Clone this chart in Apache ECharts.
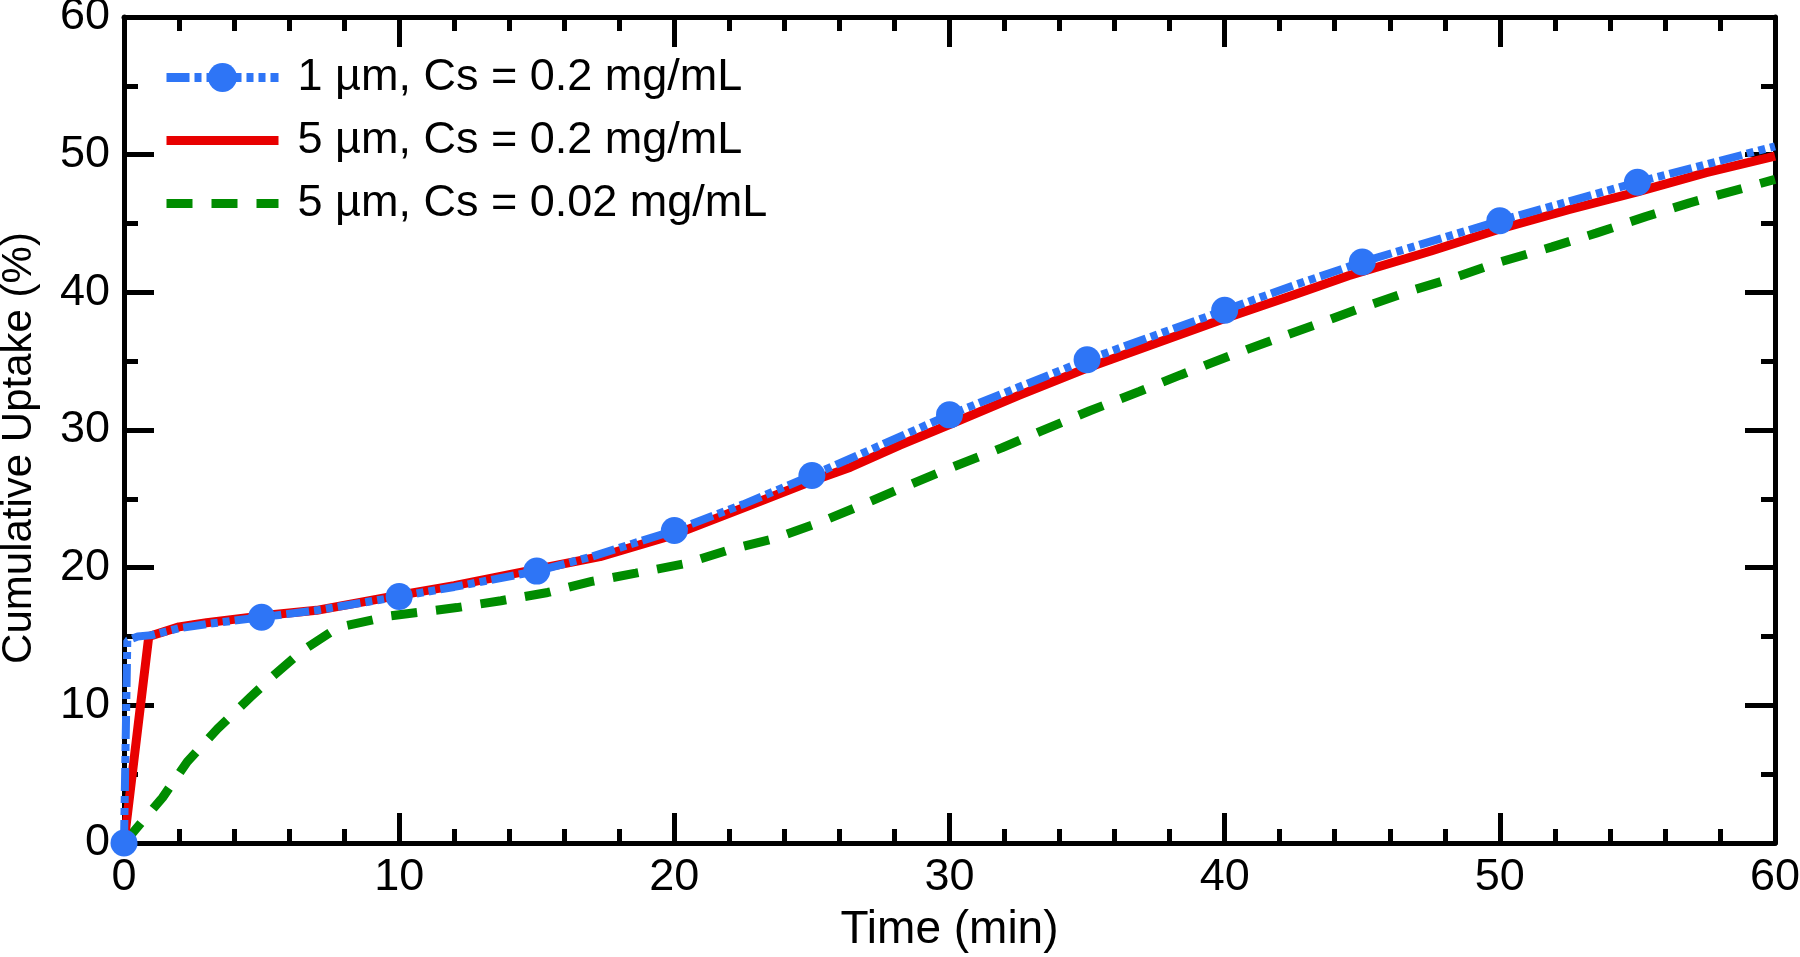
<!DOCTYPE html>
<html>
<head>
<meta charset="utf-8">
<script src="https://cdn.jsdelivr.net/npm/echarts@6/dist/echarts.min.js"></script>
<style>
html,body{margin:0;padding:0;background:#fff;}
#chart{width:1800px;height:957px;}
</style>
</head>
<body>
<div id="chart"></div>
<script>
// ---- data ----
var seriesNames = ['1 \u00b5m, Cs = 0.2 mg/mL', '5 \u00b5m, Cs = 0.2 mg/mL', '5 \u00b5m, Cs = 0.02 mg/mL'];
var xTitle = 'Time (min)';
var yTitle = 'Cumulative Uptake (%)';
// 1 um, 0.2 mg/mL  [time, uptake]
var blue = [[0,0],[0.12,14.7],[0.5,15.0],[1,15.1],[2,15.6],[3,15.9],[5,16.4],[7,16.9],[10,17.9],[12,18.6],[15,19.75],[17,20.8],[20,22.7],[22.5,24.6],[25,26.7],[27.5,28.9],[30,31.1],[32.5,33.1],[35,35.1],[37.5,36.9],[40,38.7],[42.5,40.5],[45,42.2],[47.5,43.7],[50,45.2],[52.5,46.6],[55,48.0],[57.5,49.3],[60,50.6]];
// times at which the blue series carries a marker
var blueMarkerTimes = [0,5,10,15,20,25,30,35,40,45,50,55];
// 5 um, 0.2 mg/mL
var red = [[0,0],[0.9,15.0],[2,15.7],[3,16.0],[5,16.5],[7,16.9],[10,18.0],[12,18.7],[15,19.9],[17.3,20.8],[20,22.4],[22.7,24.5],[25,26.3],[26.4,27.3],[28.2,28.9],[30,30.4],[32.5,32.5],[35,34.5],[37.5,36.3],[40,38.1],[42.5,39.8],[44.5,41.2],[47.5,43.0],[50,44.6],[52.5,46.0],[55,47.3],[57.5,48.7],[60,49.9]];
// 5 um, 0.02 mg/mL
var green = [[0,0],[0.3,0.7],[1.4,3.3],[2.3,5.9],[3.4,8.3],[4.6,10.6],[5.4,12.1],[6.5,14.0],[7.5,15.3],[8.1,15.8],[9.7,16.5],[12.1,17.1],[13.7,17.6],[15.4,18.2],[17.0,19.0],[18.6,19.6],[20.4,20.3],[22.0,21.3],[23.6,22.1],[25.3,23.3],[27.0,24.7],[28.4,25.9],[30.1,27.3],[31.9,28.7],[33.3,29.9],[35.1,31.4],[36.9,32.8],[38.4,34.0],[40.2,35.4],[41.9,36.65],[43.5,37.8],[45,38.9],[46.9,40.2],[48.4,41.1],[50,42.2],[51.9,43.3],[53.5,44.3],[55.3,45.5],[56.9,46.5],[60,48.2]];

// ---- chart ----
var FONT = 'Liberation Sans, Arial, Helvetica, sans-serif';
var FS = 45;
var chart = echarts.init(document.getElementById('chart'), null, {renderer:'canvas'});
function axisBase(showLabel, isX) {
  return {
    type: 'value', min: 0, max: 60, interval: 10,
    axisLine: {show: true, onZero: false, lineStyle: {color: '#000', width: 5}},
    axisTick: {show: true, inside: true, length: 30, lineStyle: {color: '#000', width: 5}},
    minorTick: {show: true, splitNumber: isX ? 5 : 2, length: 14, lineStyle: {color: '#000', width: 5}},
    splitLine: {show: false},
    axisLabel: {show: showLabel, color: '#000', fontFamily: FONT, fontSize: FS, margin: isX ? 12 : 14}
  };
}
var xMain = axisBase(true, true);
xMain.position = 'bottom';
xMain.name = xTitle; xMain.nameLocation = 'middle'; xMain.nameGap = 64;
xMain.nameTextStyle = {color: '#000', fontFamily: FONT, fontSize: 46};
var xTop = axisBase(false, true); xTop.position = 'top';
var yMain = axisBase(true, false);
yMain.position = 'left';
yMain.name = yTitle; yMain.nameLocation = 'middle'; yMain.nameGap = 84;
yMain.nameTextStyle = {color: '#000', fontFamily: FONT, fontSize: 42, padding: [0, 36, 0, 0]};
var yRight = axisBase(false, false); yRight.position = 'right';

var option = {
  backgroundColor: '#fff',
  animation: false,
  grid: {left: 124, right: 25, top: 17, bottom: 114, containLabel: false, outerBoundsMode: 'none'},
  legend: {
    left: 162, top: 55, orient: 'vertical', padding: 0,
    itemWidth: 112, itemHeight: 36, itemGap: 18,
    lineStyle: {width: 9},
    textStyle: {color: '#000', fontFamily: FONT, fontSize: FS, padding: [0,0,0,14]},
    data: [
      {name: seriesNames[0]},
      {name: seriesNames[1], itemStyle: {opacity: 0}},
      {name: seriesNames[2], itemStyle: {opacity: 0}}
    ]
  },
  xAxis: [xMain, xTop],
  yAxis: [yMain, yRight],
  series: [
    {
      name: seriesNames[2], type: 'line', xAxisIndex: 0, yAxisIndex: 0,
      data: green, symbol: 'none', z: 3,
      lineStyle: {color: '#008C00', width: 9, type: [26, 19]},
      itemStyle: {color: '#008C00'}
    },
    {
      name: seriesNames[1], type: 'line', xAxisIndex: 0, yAxisIndex: 0,
      data: red, symbol: 'none', z: 4,
      lineStyle: {color: '#E80000', width: 9, type: 'solid'},
      itemStyle: {color: '#E80000'}
    },
    {
      name: seriesNames[0], type: 'line', xAxisIndex: 0, yAxisIndex: 0,
      data: blue, z: 5,
      symbol: 'circle', showAllSymbol: true,
      symbolSize: function (v) { return blueMarkerTimes.indexOf(v[0]) >= 0 ? 27 : 0; },
      lineStyle: {color: '#2E75F6', width: 8, type: [23, 5, 7, 5, 7, 5]},
      itemStyle: {color: '#2E75F6'}
    }
  ]
};
chart.setOption(option);
</script>
</body>
</html>
